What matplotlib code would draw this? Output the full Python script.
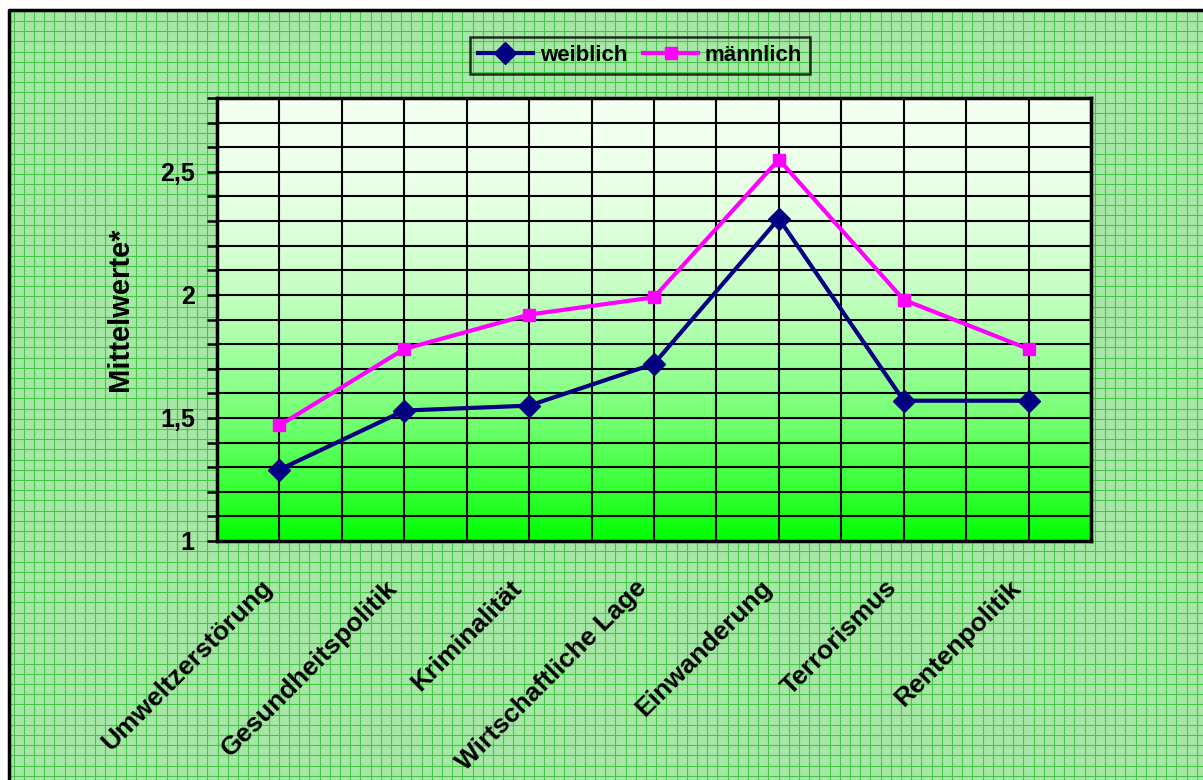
import numpy as np
import matplotlib
matplotlib.use("Agg")
import matplotlib.pyplot as plt
import matplotlib.transforms as mtransforms
from matplotlib.colors import ListedColormap

plt.rcParams['font.family'] = ['Liberation Sans', 'DejaVu Sans']
plt.rcParams['font.weight'] = 'bold'

# Mittelwerte je Problemfeld
themen = ['Umweltzerstörung', 'Gesundheitspolitik', 'Kriminalität',
          'Wirtschaftliche Lage', 'Einwanderung', 'Terrorismus', 'Rentenpolitik']
weiblich = [1.29, 1.53, 1.55, 1.72, 2.31, 1.57, 1.57]
maennlich = [1.47, 1.78, 1.92, 1.99, 2.55, 1.98, 1.78]
y_labels = {1.0: '1', 1.5: '1,5', 2.0: '2', 2.5: '2,5'}

W, H = 1203, 780
fig = plt.figure(figsize=(W / 100, H / 100), dpi=100)
fig.patch.set_facecolor('white')

# grid paper background of the chart area
bg = fig.add_axes([0, 0, 1, 1], zorder=0)
bg.set_xlim(0, W)
bg.set_ylim(H, 0)
bg.axis('off')
bg.add_patch(plt.Rectangle((9, 10), W, H, facecolor='#a6e6a6', edgecolor='none'))
for x in np.arange(13.6, W, 10.2):
    bg.plot([x, x], [10, H], color='#46c846', lw=0.8)
for y in np.arange(21, H, 10.2):
    bg.plot([9, W], [y, y], color='#46c846', lw=0.8)
bg.plot([9, 9, W], [H, 10, 10], color='black', lw=2.5, solid_capstyle='butt')

ax = fig.add_axes([217 / W, 1 - 541 / H, (1091 - 217) / W, (541 - 98) / H], zorder=2)
ax.set_xlim(-0.5, len(themen) - 0.5)
ax.set_ylim(1, 2.8)

# vertical gradient fill, white at top to green at bottom
t = np.linspace(0, 1, 256)
k = 1 - t ** 2
cols = np.column_stack([0.95 * k, np.ones_like(t), 0.94 * k])
cmap = ListedColormap(cols)
ax.imshow(t[::-1].reshape(-1, 1), cmap=cmap, aspect='auto', interpolation='bilinear',
          extent=[-0.5, len(themen) - 0.5, 1, 2.8], origin='lower', zorder=0)

for yv in np.arange(1.1, 2.75, 0.1):
    ax.axhline(yv, color='black', lw=1.5, zorder=1)
for xv in np.arange(0, len(themen) - 0.5 + 0.01, 0.5):
    ax.axvline(xv, color='black', lw=1.5, zorder=1)

x = np.arange(len(themen))
ax.plot(x, weiblich, color='#000080', lw=3, marker='D', ms=11,
        label='weiblich', zorder=4)
ax.plot(x, maennlich, color='#ff00ff', lw=3, marker='s', ms=9,
        label='männlich', zorder=3)

for s in ax.spines.values():
    s.set_linewidth(2.5)
    s.set_color('black')

ax.set_yticks(np.arange(1, 2.81, 0.1))
ax.set_yticklabels([y_labels.get(round(v, 1), '') for v in np.arange(1, 2.81, 0.1)])
ax.tick_params(axis='y', direction='out', length=7, width=1.8, pad=9,
               labelsize=18)
ax.set_xticks(x)
ax.set_xticklabels(themen, rotation=45, ha='right', va='center',
                   rotation_mode='anchor', fontsize=19)
ax.tick_params(axis='x', length=0, pad=31)
shift = mtransforms.ScaledTranslation(-11 / 100, 0, fig.dpi_scale_trans)
for lab in ax.get_xticklabels():
    lab.set_transform(lab.get_transform() + shift)
ax.set_ylabel('Mittelwerte*', fontsize=21, fontweight='bold')
ax.yaxis.set_label_coords(-0.095, 0.524)

leg = fig.legend(loc='center', bbox_to_anchor=(640 / W, 1 - 55.5 / H), ncol=2,
                 frameon=True, fancybox=False, handlelength=2.5,
                 handletextpad=0.3, columnspacing=0.7, borderpad=0.35,
                 prop={'weight': 'bold', 'size': 16})
leg.get_frame().set_edgecolor('black')
leg.get_frame().set_linewidth(1.8)
leg.get_frame().set_facecolor('none')

fig.savefig('out.png', dpi=100, facecolor=fig.get_facecolor())
